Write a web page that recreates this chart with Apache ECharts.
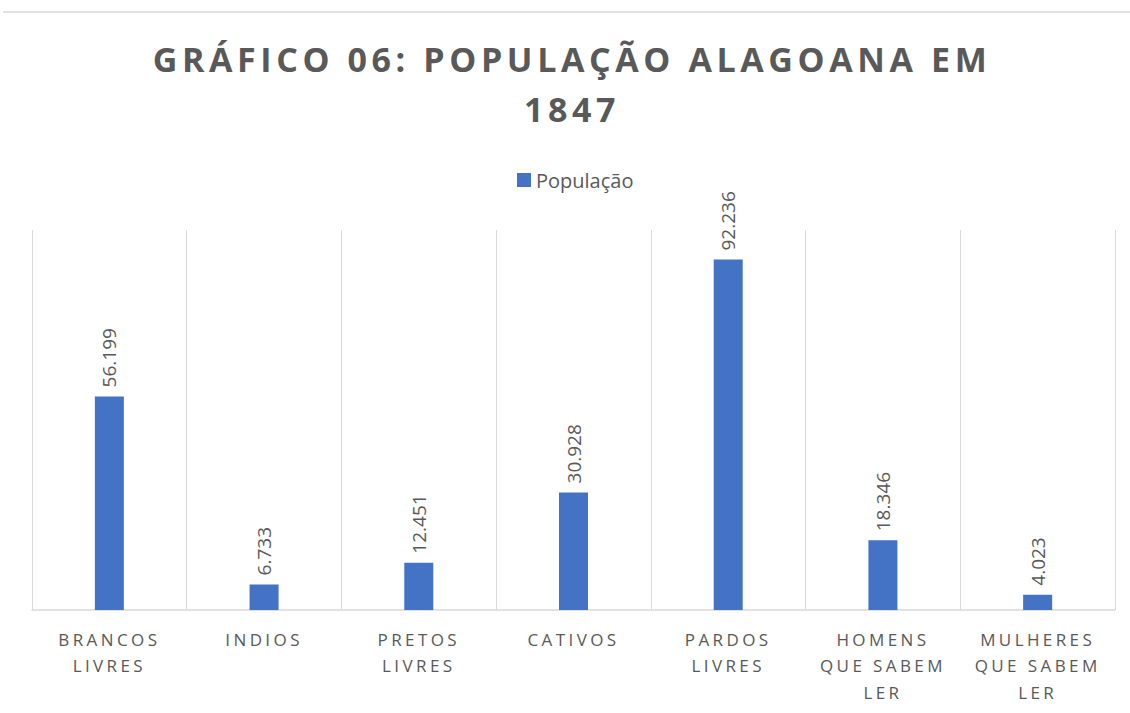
<!DOCTYPE html>
<html>
<head>
<meta charset="utf-8">
<script src="https://cdn.jsdelivr.net/npm/echarts@6/dist/echarts.min.js"></script>
<style>
  html, body { margin: 0; padding: 0; background: #fff; }
  #chart { width: 1130px; height: 713px; }
  /* Excel-like letter spacing on title and category labels */
  #chart text[style*="34px"] { letter-spacing: 4.6px; }
  #chart text[style*="17px"] { letter-spacing: 3.4px; }
</style>
</head>
<body>
<div id="chart"></div>
<script>
// X轴标签
const categories = [
  'BRANCOS\nLIVRES',
  'INDIOS',
  'PRETOS\nLIVRES',
  'CATIVOS',
  'PARDOS\nLIVRES',
  'HOMENS\nQUE SABEM\nLER',
  'MULHERES\nQUE SABEM\nLER'
]
const populacao = [56199, 6733, 12451, 30928, 92236, 18346, 4023]
const seriesName = 'População'
const titleText = 'GRÁFICO 06: POPULAÇÃO ALAGOANA EM\n1847'

const textColor = '#595959'
const gridColor = '#d9d9d9'

const chart = echarts.init(document.getElementById('chart'), null, { renderer: 'svg' })
chart.setOption({
  animation: false,
  title: {
    text: titleText,
    left: 567,
    textAlign: 'center',
    top: 29,
    textStyle: {
      fontFamily: 'Open Sans',
      fontWeight: 'bold',
      fontSize: 34,
      lineHeight: 50,
      color: textColor
    }
  },
  legend: {
    top: 165,
    left: 512,
    itemWidth: 14,
    itemHeight: 14,
    itemGap: 6,
    icon: 'rect',
    textStyle: {
      fontFamily: 'Open Sans',
      fontSize: 20,
      color: textColor,
      padding: [0, 0, 0, 0]
    }
  },
  grid: {
    top: 230,
    left: 32,
    right: 15,
    bottom: 103,
    containLabel: false
  },
  xAxis: {
    type: 'category',
    data: categories,
    axisTick: { show: false },
    axisLine: { lineStyle: { color: gridColor, width: 1.5 } },
    splitLine: { show: true, lineStyle: { color: gridColor, width: 1 } },
    axisLabel: {
      interval: 0,
      margin: 16,
      fontFamily: 'Open Sans',
      fontSize: 17,
      lineHeight: 26.5,
      color: textColor,
      verticalAlign: 'top'
    }
  },
  yAxis: {
    type: 'value',
    min: 0,
    max: 100000,
    show: false,
    splitLine: { show: false }
  },
  series: [{
    name: seriesName,
    type: 'bar',
    barWidth: 29,
    data: populacao,
    itemStyle: { color: '#4472c4' },
    label: {
      show: true,
      position: 'top',
      rotate: 90,
      align: 'left',
      verticalAlign: 'middle',
      distance: 9,
      fontFamily: 'Open Sans',
      fontSize: 19,
      color: textColor,
      formatter: function (p) {
        return String(p.value).replace(/\B(?=(\d{3})+(?!\d))/g, '.')
      }
    }
  }],
  graphic: [{
    type: 'line',
    shape: { x1: 3, y1: 12, x2: 1130, y2: 12 },
    style: { stroke: '#e3e3e3', lineWidth: 2 }
  }]
})
</script>
</body>
</html>
